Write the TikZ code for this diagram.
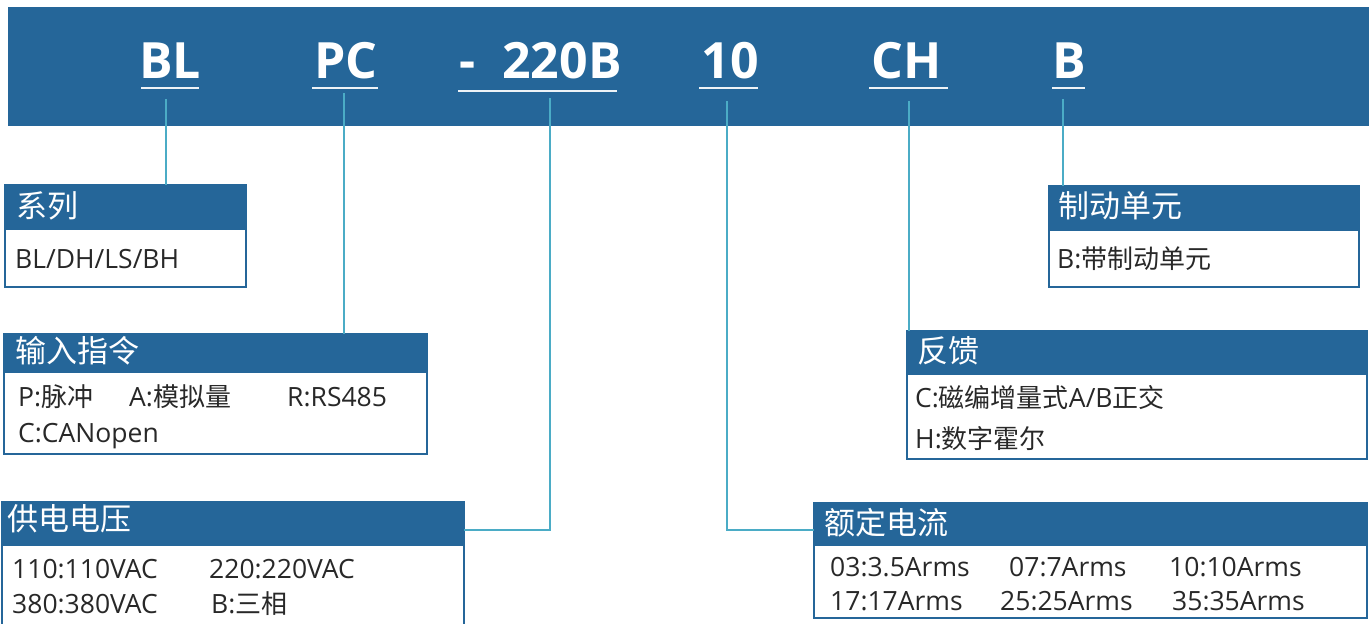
\documentclass[tikz,border=0pt]{standalone}
\usepackage{fontspec}
\setmainfont{Open Sans}
\newfontfamily\cjk{Noto Sans CJK SC}
\newfontfamily\codefont{Open Sans}
\newcommand{\zh}[1]{{\cjk\fontsize{26}{30}\selectfont #1}}
\definecolor{barblue}{RGB}{37,102,153}
\definecolor{linkteal}{RGB}{75,172,198}
\definecolor{bodytext}{RGB}{40,40,40}
\tikzset{
  codetext/.style={text=white,font=\codefont\bfseries\fontsize{50}{60}\selectfont,anchor=base,inner sep=0pt},
  uline/.style={draw=white!92!barblue,line width=2.8pt},
  link/.style={draw=linkteal,line width=2.6pt},
  boxframe/.style={draw=barblue,line width=2.5pt,fill=white,inner sep=0pt,outer sep=0pt,anchor=north west},
  boxhead/.style={fill=barblue},
  headtext/.style={text=white,font=\cjk\fontsize{31}{36}\selectfont,anchor=base west,inner sep=0pt},
  bodytxt/.style={text=bodytext,font=\fontsize{26.5}{30}\selectfont,anchor=base west,inner sep=0pt}
}
\begin{document}
\begin{tikzpicture}[x=1pt,y=-1pt]
\useasboundingbox (0,0) rectangle (1369,624);
% top bar
\fill[barblue] (8,7) rectangle (1369,126);
\node[codetext] (tBL) at (170,78) {BL};
\node[codetext] (tPC) at (346,78) {PC};
\node[codetext] (tDash) at (468,78) {-};
\node[codetext] (tV) at (562,78) {220B};
\node[codetext] (tI) at (730,78) {10};
\node[codetext] (tCH) at (907,78) {CH};
\node[codetext] (tB) at (1069,78) {B};
\draw[uline] (141,88) -- (199,88);
\draw[uline] (312,88) -- (378,88);
\draw[uline] (458,91) -- (617,91);
\draw[uline] (699,88) -- (758,88);
\draw[uline] (869,88) -- (948,88);
\draw[uline] (1052,88) -- (1085,88);
\coordinate (pBL) at (166,99);
\coordinate (pPC) at (344,93);
\coordinate (pV) at (550,98);
\coordinate (pI) at (727,101);
\coordinate (pCH) at (909,101);
\coordinate (pB) at (1063,99);
% boxes (frames as named nodes)
\node[boxframe,minimum width=241pt,minimum height=102pt] (sx) at (5,185) {};
\node[boxframe,minimum width=423pt,minimum height=120pt] (sr) at (4,334) {};
\node[boxframe,minimum width=462pt,minimum height=126pt] (gd) at (2,502) {};
\node[boxframe,minimum width=310pt,minimum height=101pt] (zd) at (1049,186) {};
\node[boxframe,minimum width=460pt,minimum height=128pt] (fk) at (907,331) {};
\node[boxframe,minimum width=553pt,minimum height=115pt] (ed) at (814,503) {};
% headers
\fill[boxhead] (sx.north west) rectangle (sx.east |- 0,230);
\fill[boxhead] (sr.north west) rectangle (sr.east |- 0,373);
\fill[boxhead] (gd.north west) rectangle (gd.east |- 0,546);
\fill[boxhead] (zd.north west) rectangle (zd.east |- 0,231);
\fill[boxhead] (fk.north west) rectangle (fk.east |- 0,375);
\fill[boxhead] (ed.north west) rectangle (ed.east |- 0,546);
\draw[barblue,line width=2.5pt] (sx.north west) rectangle (sx.south east);
\draw[barblue,line width=2.5pt] (sr.north west) rectangle (sr.south east);
\draw[barblue,line width=2.5pt] (gd.north west) rectangle (gd.south east);
\draw[barblue,line width=2.5pt] (zd.north west) rectangle (zd.south east);
\draw[barblue,line width=2.5pt] (fk.north west) rectangle (fk.south east);
\draw[barblue,line width=2.5pt] (ed.north west) rectangle (ed.south east);
% connectors
\draw[link] (pBL) -- (pBL |- sx.north);
\draw[link] (pPC) -- (pPC |- sr.north);
\draw[link] (pV) -- (pV |- 0,530) -- (gd.east |- 0,530);
\draw[link] (pI) -- (pI |- 0,530) -- (ed.west |- 0,530);
\draw[link] (pCH) -- (pCH |- fk.north);
\draw[link] (pB) -- (pB |- zd.north);
% header texts
\node[headtext] (hsx) at (16,217) {系列};
\node[headtext] (hsr) at (15,362) {输入指令};
\node[headtext] (hgd) at (7,530) {供电电压};
\node[headtext] (hzd) at (1058,217) {制动单元};
\node[headtext] (hfk) at (917,362) {反馈};
\node[headtext] (hed) at (824,534) {额定电流};
% body texts
\node[bodytxt] (b1) at (15,268) {BL/DH/LS/BH};
\node[bodytxt] (b2a) at (18,406) {P:\zh{脉冲}};
\node[bodytxt] (b2b) at (129,406) {A:\zh{模拟量}};
\node[bodytxt] (b2c) at (287,406) {R:RS485};
\node[bodytxt] (b2d) at (18,442) {C:CANopen};
\node[bodytxt] (b3a) at (12,578) {110:110VAC};
\node[bodytxt] (b3b) at (209,578) {220:220VAC};
\node[bodytxt] (b3c) at (12,613) {380:380VAC};
\node[bodytxt] (b3d) at (211,613) {B:\zh{三相}};
\node[bodytxt] (b4) at (1057,268) {B:\zh{带制动单元}};
\node[bodytxt] (b5a) at (915,407) {C:\zh{磁编增量式}A/B\zh{正交}};
\node[bodytxt] (b5b) at (915,448) {H:\zh{数字霍尔}};
\node[bodytxt] (b6a) at (830,576) {03:3.5Arms};
\node[bodytxt] (b6b) at (1009,576) {07:7Arms};
\node[bodytxt] (b6c) at (1169,576) {10:10Arms};
\node[bodytxt] (b6d) at (830,610) {17:17Arms};
\node[bodytxt] (b6e) at (1000,610) {25:25Arms};
\node[bodytxt] (b6f) at (1172,610) {35:35Arms};
\end{tikzpicture}
\end{document}
